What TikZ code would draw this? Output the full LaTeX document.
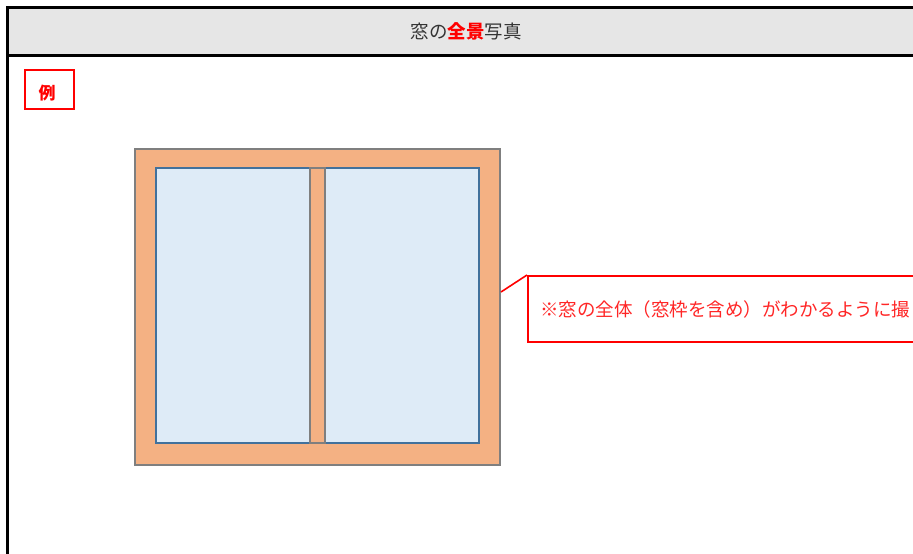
\documentclass[tikz,border=0pt]{standalone}
\usepackage{fontspec}
\newfontfamily\jp{Noto Sans CJK JP}
\definecolor{hdr}{HTML}{E6E6E6}
\definecolor{wood}{HTML}{F4B183}
\definecolor{woodline}{HTML}{7F7F7F}
\definecolor{glass}{HTML}{DEEBF7}
\definecolor{glassline}{HTML}{41719C}
\tikzset{
  pane/.style={fill=glass,draw=glassline,line width=1.6pt},
  woodbox/.style={fill=wood,draw=woodline,line width=1.6pt},
  redbox/.style={draw=red,line width=1.6pt,fill=white},
  frameline/.style={draw=black,line width=3pt},
}
\begin{document}
\begin{tikzpicture}[x=1pt,y=-1pt,font=\jp]
\useasboundingbox (0,0) rectangle (913,554);
\clip (0,0) rectangle (913,554);
% header band
\fill[hdr] (7,7) rectangle (930,55);
\draw[frameline] (930,7) -- (7,7) -- (7,570);
\draw[frameline] (7,55) -- (930,55);
\node[font=\jp\fontsize{18.5}{22}\selectfont,text=black!80] (title) at (466,31) {窓の\textcolor{red}{\bfseries 全景}写真};
% example box
\node[redbox,minimum width=49pt,minimum height=39pt,inner sep=0pt] (ex) at (49.5,89.5) {};
\node[text=red,font=\jp\bfseries\fontsize{17}{20}\selectfont,inner sep=0pt] (extext) at (47,93) {例};
% window
\node[woodbox,minimum width=365pt,minimum height=316pt,inner sep=0pt] (win) at (317.5,307) {};
\node[pane,minimum width=154pt,minimum height=275pt,inner sep=0pt] (lp) at (233,305.5) {};
\node[pane,minimum width=154pt,minimum height=275pt,inner sep=0pt] (rp) at (402,305.5) {};
\node[fill=wood,draw=woodline,line width=1.4pt,minimum width=15pt,minimum height=275pt,inner sep=0pt] (mid) at (317.5,305.5) {};
% callout
\coordinate (tip) at (501,292);
\node[redbox,anchor=north west,minimum width=420pt,minimum height=66pt,inner sep=0pt] (call) at (527,275) {};
\node[anchor=west,text=red!85,font=\jp\fontsize{18.5}{22}\selectfont,inner sep=0pt] (ctext) at (540,309) {※窓の全体（窓枠を含め）がわかるように撮};
\draw[red,line width=1.6pt] (tip) -- (call.north west);
\end{tikzpicture}
\end{document}
